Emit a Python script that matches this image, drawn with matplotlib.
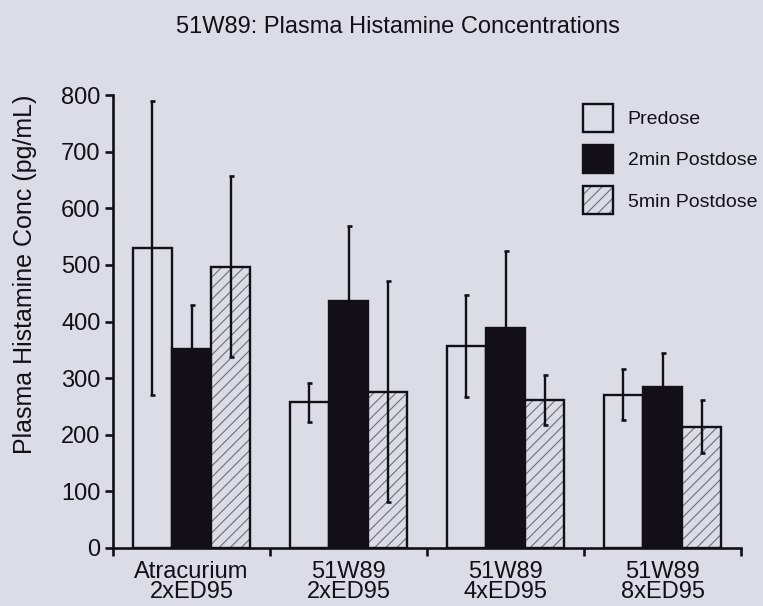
import matplotlib
matplotlib.use("Agg")
import matplotlib.pyplot as plt
from matplotlib.patches import Patch
from matplotlib.legend_handler import HandlerTuple
import numpy as np

plt.rcParams['font.family'] = ['Liberation Sans', 'DejaVu Sans']

title = "51W89: Plasma Histamine Concentrations"
ylabel = "Plasma Histamine Conc (pg/mL)"
groups = ["Atracurium\n2xED95", "51W89\n2xED95", "51W89\n4xED95", "51W89\n8xED95"]
series = ["Predose", "2min Postdose", "5min Postdose"]
predose = [530, 257, 357, 271]
predose_err = [260, 34, 90, 45]
post2 = [352, 436, 388, 285]
post2_err = [77, 132, 136, 59]
post5 = [497, 276, 262, 214]
post5_err = [160, 195, 44, 47]
yticks = [0, 100, 200, 300, 400, 500, 600, 700, 800]

BG = '#dcdce6'
INK = '#121016'
HATCHC = '#6e6e78'

W, H = 763, 606
fig = plt.figure(figsize=(W / 100, H / 100), dpi=100, facecolor=BG)
ax = fig.add_axes([113 / W, 58 / H, 628 / W, 453 / H])
ax.set_facecolor(BG)

x = np.arange(len(groups)) + 0.5
bw = 0.25
LW = 1.7
ekw = dict(elinewidth=1.7, capsize=1.8, capthick=1.9, ecolor=INK, zorder=5)

ax.bar(x - bw, predose, bw, color=BG, edgecolor=INK, linewidth=LW, zorder=2)
ax.errorbar(x - bw, predose, yerr=predose_err, fmt='none', **ekw)

ax.bar(x, post2, bw, color=INK, edgecolor=INK, linewidth=LW, zorder=2)
ax.errorbar(x, post2, yerr=post2_err, fmt='none', **ekw)

plt.rcParams['hatch.linewidth'] = 0.8
ax.bar(x + bw, post5, bw, color=BG, edgecolor=HATCHC, linewidth=0, hatch='///', zorder=2)
ax.bar(x + bw, post5, bw, fill=False, edgecolor=INK, linewidth=LW, zorder=3)
ax.errorbar(x + bw, post5, yerr=post5_err, fmt='none', **ekw)

ax.set_xlim(0, len(groups))
ax.set_ylim(0, 800)
ax.set_yticks(yticks)
ax.set_yticklabels([str(v) for v in yticks], fontsize=17, color=INK)
ax.set_xticks(np.arange(len(groups) + 1))
ax.set_xticklabels([])
ax.set_xticks(x, minor=True)
ax.set_xticklabels(groups, minor=True, fontsize=17, color=INK, linespacing=0.92)
ax.tick_params(axis='x', which='minor', length=0, pad=9)
ax.tick_params(axis='x', which='major', direction='out', length=6, width=1.9, color=INK)
ax.tick_params(axis='y', direction='out', length=6, width=1.9, color=INK, pad=3)

for s in ['top', 'right']:
    ax.spines[s].set_visible(False)
for s in ['left', 'bottom']:
    ax.spines[s].set_linewidth(1.9)
    ax.spines[s].set_color(INK)

fig.text(398 / W, 1 - 27 / H, title, ha='center', va='center', fontsize=17, color=INK)
fig.text(25 / W, 1 - 274 / H, ylabel, ha='center', va='center', rotation=90, fontsize=18, color=INK)

h1 = Patch(facecolor=BG, edgecolor=INK, linewidth=LW)
h2 = Patch(facecolor=INK, edgecolor=INK, linewidth=LW)
h3a = Patch(facecolor=BG, edgecolor=HATCHC, linewidth=0, hatch='///')
h3b = Patch(fill=False, edgecolor=INK, linewidth=LW)
leg = ax.legend([h1, h2, (h3a, h3b)], series, handler_map={tuple: HandlerTuple(ndivide=1, pad=0)},
                loc='upper left', bbox_to_anchor=(583 / W, 1 - 104 / H), bbox_transform=fig.transFigure,
                frameon=False, fontsize=14, handlelength=1.55, handleheight=1.86,
                labelspacing=0.66, handletextpad=0.75, borderpad=0, borderaxespad=0)
for t in leg.get_texts():
    t.set_color(INK)

fig.savefig("out.png", dpi=100, facecolor=BG)
